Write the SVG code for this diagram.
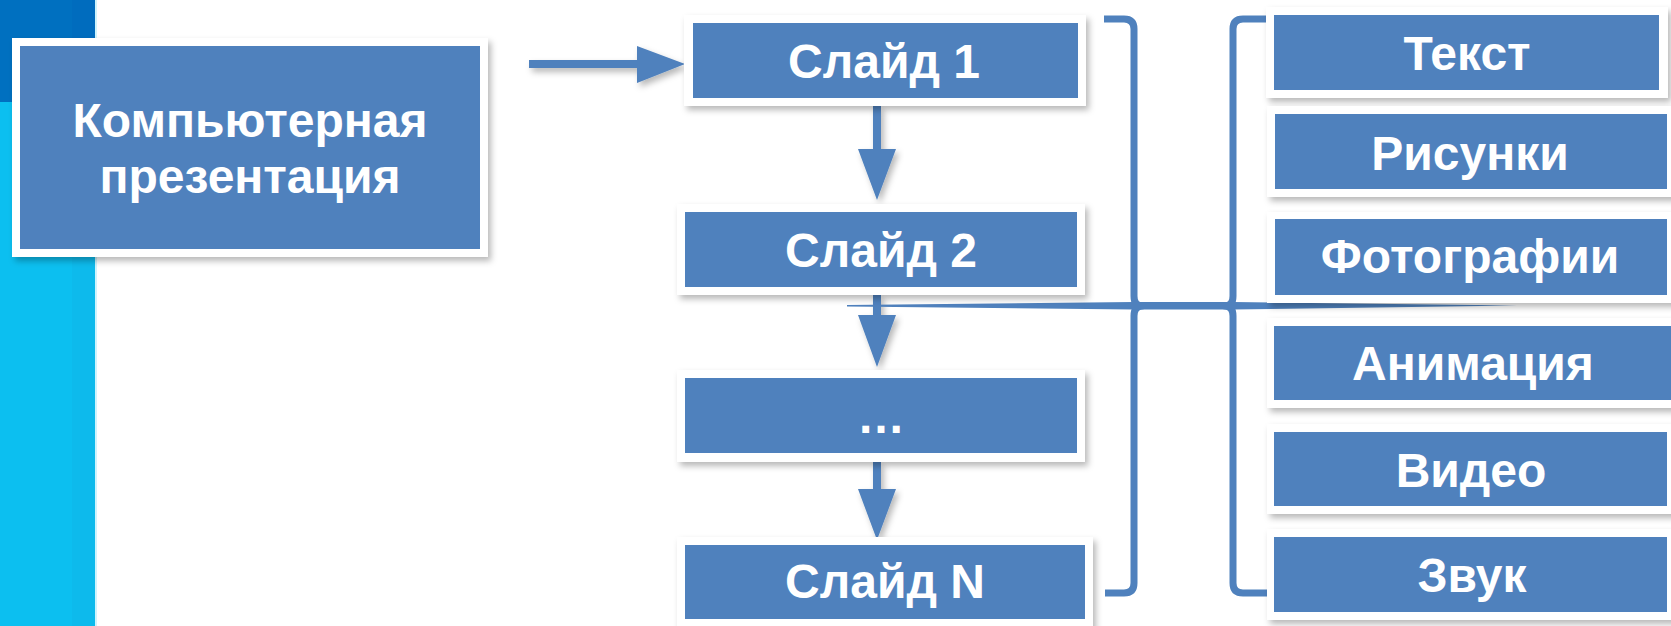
<svg xmlns="http://www.w3.org/2000/svg" width="1671" height="626" viewBox="0 0 1671 626">
<defs>
<filter id="sh" x="-10%" y="-20%" width="130%" height="150%">
<feDropShadow dx="3" dy="4" stdDeviation="3" flood-color="#000" flood-opacity="0.28"/>
</filter>
<style>
.frame{fill:#ffffff;filter:url(#sh)}
.box{fill:#4F81BD}
.t{font-family:"Liberation Sans",Arial,sans-serif;font-weight:bold;font-size:48px;fill:#ffffff;text-anchor:middle}
.br{fill:none;stroke:#4F81BD;stroke-width:7;stroke-linejoin:round}
.ar{fill:#4F81BD;filter:url(#sh)}
</style>
</defs>
<rect width="1671" height="626" fill="#ffffff"/>
<g id="sidebar">
<rect x="0" y="0" width="95" height="626" fill="#0CBFF0"/>
<rect x="72" y="102" width="23" height="524" fill="#0DBAEC"/>
<rect x="95" y="0" width="2" height="626" fill="#CFF4FD"/>
<rect x="0" y="0" width="95" height="102" fill="#0070C0"/>
<rect x="72" y="0" width="23" height="102" fill="#006CBE"/>
</g>
<g id="connectors">
<path class="ar" d="M529,60 H637 V46 L685,64 L637,83 V68 H529 Z"/>
<path class="ar" d="M873,106 H881 V149 H896 L877,200 L858,149 H873 Z"/>
<path class="ar" d="M873,295 H881 V315 H896 L877,367 L858,315 H873 Z"/>
<path class="ar" d="M873,462 H881 V489 H896 L877,540 L858,489 H873 Z"/>
<path class="br" d="M1104,19 H1124 Q1134,19 1134,29 V296 Q1134,306 1142,306 Q1134,306 1134,316 V583 Q1134,593 1124,593 H1105"/>
<path class="br" d="M1271,19 H1243 Q1233,19 1233,29 V296 Q1233,306 1225,306 Q1233,306 1233,316 V583 Q1233,593 1243,593 H1270"/>
<path fill="#4F81BD" d="M847,305 L1134,302 H1233 L1517,305.5 L1233,309.5 H1134 L847,306.5 Z"/>
</g>
<g id="node-presentation">
<rect class="frame" x="12" y="38" width="476" height="219"/>
<rect class="box" x="20" y="46" width="460" height="203"/>
<text class="t" x="250" y="137">Компьютерная</text>
<text class="t" x="250" y="193">презентация</text>
</g>
<g id="node-slide1">
<rect class="frame" x="684" y="15" width="402" height="91"/>
<rect class="box" x="693" y="23" width="385" height="75"/>
<text class="t" x="884" y="78">Слайд 1</text>
</g>
<g id="node-slide2">
<rect class="frame" x="677" y="204" width="408" height="91"/>
<rect class="box" x="685" y="212" width="392" height="75"/>
<text class="t" x="881" y="267">Слайд 2</text>
</g>
<g id="node-ellipsis">
<rect class="frame" x="677" y="370" width="408" height="92"/>
<rect class="box" x="685" y="378" width="392" height="75"/>
<text class="t" x="881" y="433">…</text>
</g>
<g id="node-slideN">
<rect class="frame" x="677" y="537" width="416" height="95"/>
<rect class="box" x="685" y="545" width="400" height="74"/>
<text class="t" x="885" y="598">Слайд N</text>
</g>
<g id="node-text">
<rect class="frame" x="1266" y="7" width="402" height="91"/>
<rect class="box" x="1274" y="15" width="385" height="75"/>
<text class="t" x="1467" y="70">Текст</text>
</g>
<g id="node-pictures">
<rect class="frame" x="1267" y="106" width="410" height="91"/>
<rect class="box" x="1275" y="114" width="392" height="75"/>
<text class="t" x="1470" y="170">Рисунки</text>
</g>
<g id="node-photos">
<rect class="frame" x="1267" y="212" width="410" height="91"/>
<rect class="box" x="1275" y="219" width="392" height="76"/>
<text class="t" x="1470" y="273">Фотографии</text>
</g>
<g id="node-animation">
<rect class="frame" x="1267" y="318" width="410" height="90"/>
<rect class="box" x="1274" y="326" width="400" height="74"/>
<text class="t" x="1473" y="380">Анимация</text>
</g>
<g id="node-video">
<rect class="frame" x="1267" y="424" width="410" height="90"/>
<rect class="box" x="1274" y="432" width="393" height="74"/>
<text class="t" x="1471" y="487">Видео</text>
</g>
<g id="node-sound">
<rect class="frame" x="1267" y="529" width="410" height="91"/>
<rect class="box" x="1274" y="537" width="393" height="75"/>
<text class="t" x="1472" y="592">Звук</text>
</g>
</svg>
